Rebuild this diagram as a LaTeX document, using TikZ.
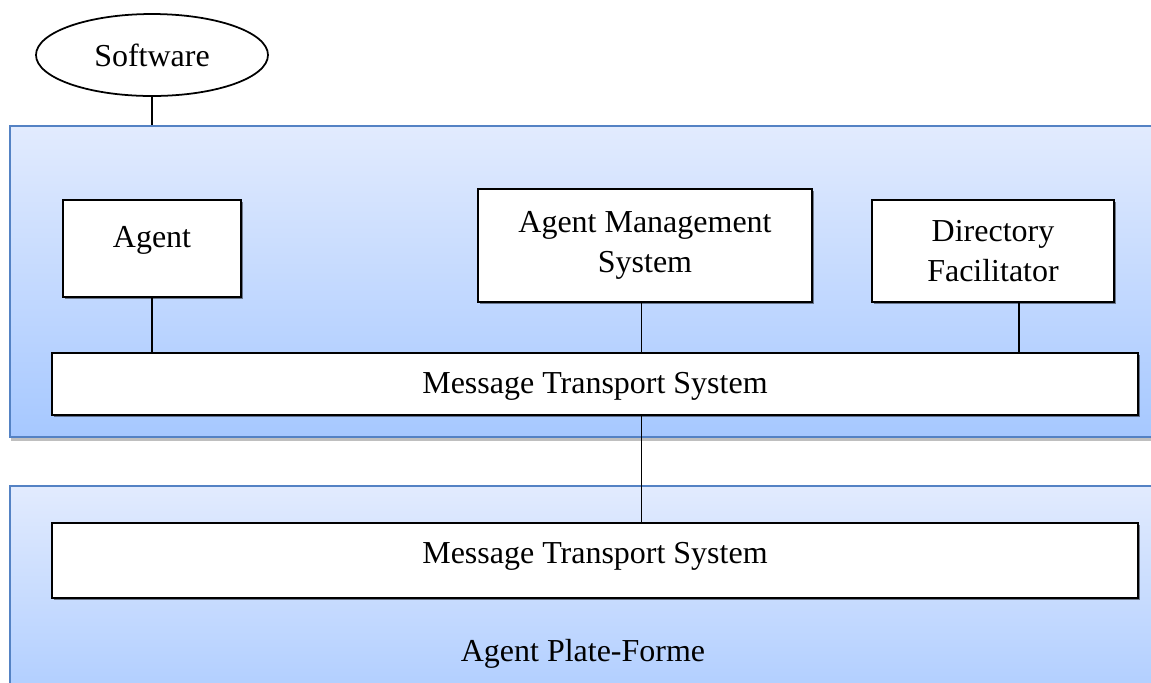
\documentclass[tikz,border=0pt]{standalone}
\usepackage{fontspec}
\setmainfont{Liberation Serif}
\usepackage{xcolor}
\usetikzlibrary{shapes.geometric,shadows,positioning}
\definecolor{platetop}{RGB}{226,235,254}
\definecolor{platebot}{RGB}{166,200,255}
\definecolor{plateedge}{RGB}{84,130,196}
\newcommand{\lift}[2]{\raisebox{#1}[\height][\depth]{#2}}

\begin{document}
\begin{tikzpicture}[
    font=\fontsize{18.2}{23}\selectfont,
    plate/.style={rectangle, draw=plateedge, line width=1.1pt, top color=platetop, bottom color=platebot, drop shadow={shadow xshift=0.4pt, shadow yshift=-2pt, opacity=0.25, fill=black}, inner sep=0pt},
    box/.style={rectangle, draw=black, line width=1.1pt, fill=white, align=center, drop shadow={shadow xshift=1pt, shadow yshift=-1pt, opacity=0.45, fill=black}},
    soft/.style={ellipse, draw=black, line width=1pt, fill=white, minimum width=4.64cm, minimum height=1.64cm},
    link/.style={draw=black, line width=0.9pt}
]
    \clip (0,0) rectangle (23.02,-13.64);

    % the two platforms
    \node[plate, minimum width=23.3cm, minimum height=6.22cm] (plateA) at (11.85,-5.63) {};
    \node[plate, minimum width=23.3cm, minimum height=5cm] (plateB) at (11.85,-12.22) {};

    \node[soft] (sw) at (3.04,-1.10) {Software};

    \node[box, minimum width=3.56cm, minimum height=1.94cm] (agent) at (3.04,-4.97) {\lift{0.17cm}{Agent}};
    \node[box, minimum width=6.68cm, minimum height=2.26cm] (ams) at (12.9,-4.91) {Agent Management\\System};
    \node[box, minimum width=4.84cm, minimum height=2.04cm] (df) at (19.86,-5.02) {Directory\\Facilitator};

    \node[box, minimum width=21.72cm, minimum height=1.24cm] (mtsA) at (11.9,-7.68) {\lift{-0.05cm}{Message Transport System}};
    \node[box, minimum width=21.72cm, minimum height=1.5cm] (mtsB) at (11.9,-11.21) {\lift{0.08cm}{Message Transport System}};

    \node (label) at (11.66,-13.08) {Agent Plate-Forme};

    \coordinate (bus) at (12.83,0);
    \coordinate (dfx) at (20.38,0);

    \draw[link] (sw) -- (sw |- plateA.north);
    \draw[link] (agent) -- (agent |- mtsA.north);
    \draw[link] (ams.south -| bus) -- (mtsA.north -| bus);
    \draw[link] (df.south -| dfx) -- (mtsA.north -| dfx);
    \draw[link] (mtsA.south -| bus) -- (mtsB.north -| bus);
\end{tikzpicture}
\end{document}
